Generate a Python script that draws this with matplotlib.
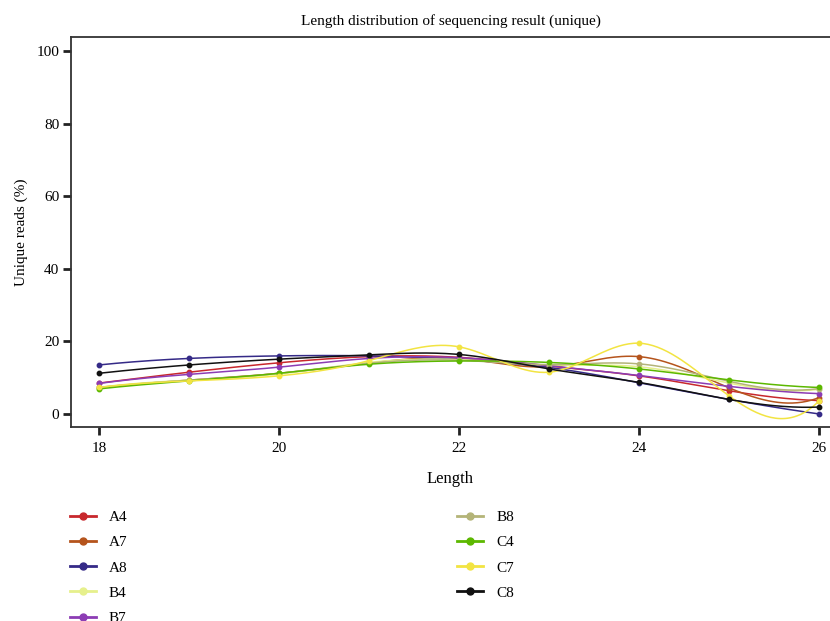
import numpy as np
import matplotlib
matplotlib.use("Agg")
import matplotlib.pyplot as plt

plt.rcParams['font.family'] = ['Liberation Serif', 'DejaVu Serif']

# read lengths and unique-read percentages off the figure
lengths = [18, 19, 20, 21, 22, 23, 24, 25, 26]
A4 = [8.5, 11.5, 14.1, 15.8, 15.6, 13.2, 10.5, 6.4, 3.7]
A7 = [7.3, 9.3, 11.2, 14.0, 15.3, 13.0, 15.8, 7.2, 4.5]
A8 = [13.5, 15.3, 16.0, 16.0, 15.0, 12.8, 8.6, 4.0, 0.0]
B4 = [7.3, 9.3, 11.0, 14.2, 15.0, 13.5, 13.0, 8.5, 6.8]
B7 = [8.4, 10.9, 12.9, 15.3, 15.5, 13.3, 10.6, 7.6, 5.6]
B8 = [7.2, 9.3, 11.2, 14.0, 14.8, 13.6, 13.8, 9.0, 7.0]
C4 = [6.9, 9.1, 11.2, 13.7, 14.6, 14.2, 12.4, 9.4, 7.3]
C7 = [7.3, 9.1, 10.5, 14.7, 18.5, 11.5, 19.5, 5.0, 3.6]
C8 = [11.2, 13.5, 15.1, 16.3, 16.4, 12.4, 8.7, 4.0, 1.9]

names = ["A4", "A7", "A8", "B4", "B7", "B8", "C4", "C7", "C8"]
series = [A4, A7, A8, B4, B7, B8, C4, C7, C8]
colors = ["#c8282d", "#b5541c", "#352a87", "#e6f08c", "#8c3cb4",
          "#b4b478", "#5cb800", "#f2e442", "#111111"]


def smooth(x, y, n=300):
    # not-a-knot cubic spline, only for the smooth look of the lines
    x = np.asarray(x, float)
    y = np.asarray(y, float)
    k = len(x)
    h = np.diff(x)
    A = np.zeros((k, k))
    b = np.zeros(k)
    A[0, 0], A[0, 1], A[0, 2] = h[1], -(h[0] + h[1]), h[0]
    A[-1, -3], A[-1, -2], A[-1, -1] = h[-1], -(h[-2] + h[-1]), h[-2]
    for i in range(1, k - 1):
        A[i, i - 1] = h[i - 1]
        A[i, i] = 2 * (h[i - 1] + h[i])
        A[i, i + 1] = h[i]
        b[i] = 3 * ((y[i + 1] - y[i]) / h[i] - (y[i] - y[i - 1]) / h[i - 1])
    c = np.linalg.solve(A, b)
    xs = np.linspace(x[0], x[-1], n)
    idx = np.clip(np.searchsorted(x, xs) - 1, 0, k - 2)
    dx = xs - x[idx]
    hi = h[idx]
    bb = (y[idx + 1] - y[idx]) / hi - hi * (2 * c[idx] + c[idx + 1]) / 3
    dd = (c[idx + 1] - c[idx]) / (3 * hi)
    ys = y[idx] + bb * dx + c[idx] * dx ** 2 + dd * dx ** 3
    return xs, ys


fig = plt.figure(figsize=(8.3, 6.21), dpi=100)
ax = fig.add_axes([0.0855, 0.3124, 0.9145, 0.628])

handles = []
for name, vals, col in zip(names, series, colors):
    xs, ys = smooth(lengths, vals)
    ax.plot(xs, ys, color=col, lw=1.1)
    ax.plot(lengths, vals, 'o', color=col, ms=3.2)
    h, = ax.plot([], [], color=col, lw=2, marker='o', ms=5, label=name)
    handles.append(h)

ax.set_xlim(17.69, 26.122)
ax.set_ylim(-3.6, 103.9)
ax.set_xticks([18, 20, 22, 24, 26])
ax.set_yticks([0, 20, 40, 60, 80, 100])
ax.spines['right'].set_visible(False)
for s in ['left', 'bottom', 'top']:
    ax.spines[s].set_color('#333333')
    ax.spines[s].set_linewidth(1.3)
ax.tick_params(direction='out', length=5.5, width=2, color='#222222',
               labelsize=11, pad=3)
ax.tick_params(axis='x', pad=5)
ax.set_title("Length distribution of sequencing result (unique)", fontsize=11, pad=9)
ax.set_xlabel("Length", fontsize=12, labelpad=12)
ax.set_ylabel("Unique reads (%)", fontsize=11, labelpad=6)

fig.legend(handles=handles, loc='upper left', bbox_to_anchor=(0.0675, 0.2),
           ncol=2, frameon=False, fontsize=11, columnspacing=21.6,
           handlelength=1.7, labelspacing=0.75, handletextpad=0.85)

fig.savefig("out.png", dpi=100)
